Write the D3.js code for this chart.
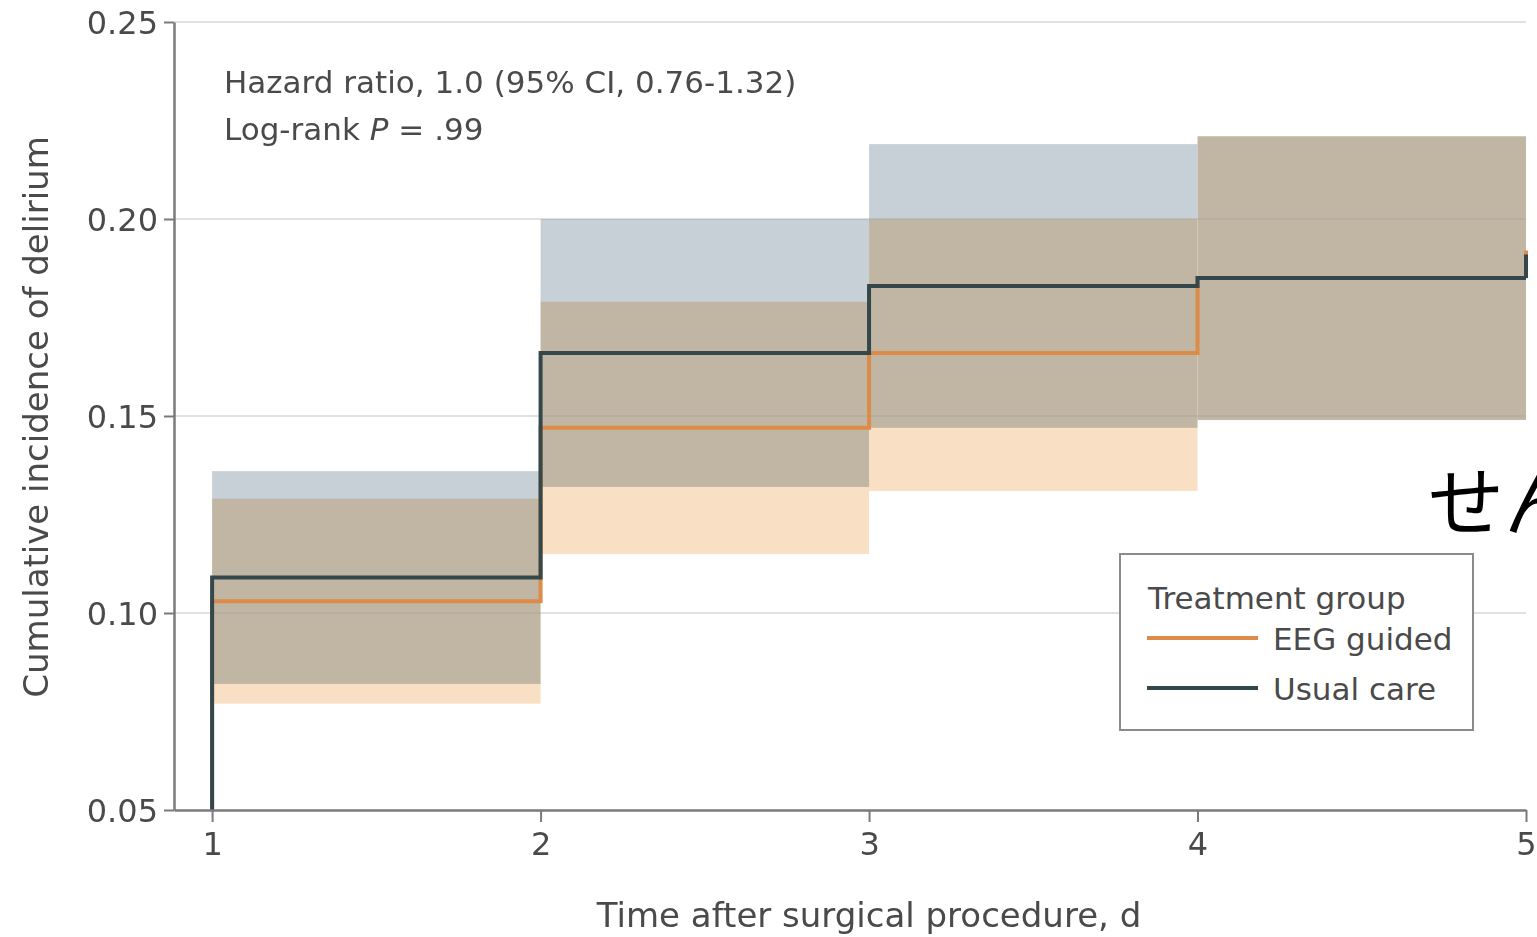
<!DOCTYPE html>
<html>
<head>
<meta charset="utf-8">
<script src="https://cdn.jsdelivr.net/npm/d3@7"></script>
<style>
  body { margin: 0; background: #fff; }
  svg { display: block; overflow: hidden; }
  text { font-family: "DejaVu Sans", "Open Sans", sans-serif; fill: #4a4a4a; }
</style>
</head>
<body>
<div class="canvas"></div>
<script>
// data
const days = [1, 2, 3, 4, 5];
const eegCurve = [0.103, 0.147, 0.166, 0.185, 0.192];
const usualCurve = [0.109, 0.166, 0.183, 0.185, 0.191];
const eegLower = [0.077, 0.115, 0.131, 0.149];
const eegUpper = [0.129, 0.179, 0.200, 0.221];
const usualLower = [0.082, 0.132, 0.147, 0.149];
const usualUpper = [0.136, 0.200, 0.219, 0.221];
const yTicks = [0.05, 0.10, 0.15, 0.20, 0.25];
const xTicks = [1, 2, 3, 4, 5];
const seriesNames = ['EEG guided', 'Usual care'];

var margin = {top: 22, right: 11, bottom: 127, left: 174},
  width = 1537 - margin.left - margin.right,
  height = 937 - margin.top - margin.bottom;

var svg = d3.select('.canvas')
  .append('svg')
  .attr('width', width + margin.left + margin.right)
  .attr('height', height + margin.top + margin.bottom);

const graph = svg.append('g')
  .attr('transform', `translate(${margin.left},${margin.top})`);

// scales
const x = d3.scaleLinear().domain([0.884, 5]).range([0, width]);
const y = d3.scaleLinear().domain([0.05, 0.25]).range([height, 0]);

const colors = {eeg: '#dc8b48', usual: '#34474a', eegBand: '#f9dfc4', usualBand: '#c6d0d6'};

// confidence bands, multiplied so the overlap turns tan
const bands = graph.append('g');
const bandRows = (lo, hi) => lo.map((l, i) => ({x0: days[i], x1: days[i + 1], lo: l, hi: hi[i]}));

[[bandRows(eegLower, eegUpper), colors.eegBand], [bandRows(usualLower, usualUpper), colors.usualBand]]
  .forEach(([rows, col]) => {
    bands.append('g').style('mix-blend-mode', 'multiply')
      .selectAll('rect')
      .data(rows)
      .enter()
      .append('rect')
        .attr('x', d => x(d.x0))
        .attr('width', d => x(d.x1) - x(d.x0))
        .attr('y', d => y(d.hi))
        .attr('height', d => y(d.lo) - y(d.hi))
        .attr('fill', col);
  });

// gridlines
graph.append('g')
  .selectAll('line')
  .data(yTicks.slice(1))
  .enter()
  .append('line')
    .attr('x1', 0)
    .attr('x2', width)
    .attr('y1', d => y(d))
    .attr('y2', d => y(d))
    .attr('stroke', '#9a9a9a')
    .attr('stroke-opacity', 0.3)
    .attr('stroke-width', 2);

// step curves, starting from the bottom of the axis at day 1
const line = d3.line()
  .x(d => x(d[0]))
  .y(d => y(d[1]))
  .curve(d3.curveStepAfter);

const stepPoints = vals => {
  const pts = [[days[0], y.domain()[0]]];
  vals.forEach((v, i) => {
    if (i < vals.length - 1) pts.push([days[i], v]);
  });
  pts.push([days[days.length - 1], vals[vals.length - 2]]);
  return pts;
};

const endSegment = vals => [[days[days.length - 1], vals[vals.length - 2]], [days[days.length - 1], vals[vals.length - 1]]];

[[eegCurve, colors.eeg], [usualCurve, colors.usual]].forEach(([vals, col]) => {
  graph.append('path')
    .datum(stepPoints(vals))
    .attr('fill', 'none')
    .attr('stroke', col)
    .attr('stroke-width', 4)
    .attr('d', line);
  graph.append('path')
    .datum(endSegment(vals))
    .attr('fill', 'none')
    .attr('stroke', col)
    .attr('stroke-width', 4)
    .attr('d', d3.line().x(d => x(d[0])).y(d => y(d[1])));
});

// axes
const xAxis = d3.axisBottom(x).tickValues(xTicks).tickFormat(d3.format('d')).tickSize(12).tickSizeOuter(0).tickPadding(10);
const yAxis = d3.axisLeft(y).tickValues(yTicks).tickFormat(d3.format('.2f')).tickSize(10).tickSizeOuter(0).tickPadding(6);

const xAxisGroup = graph.append('g')
  .attr('transform', `translate(0, ${height})`)
  .call(xAxis);
const yAxisGroup = graph.append('g').call(yAxis);

[xAxisGroup, yAxisGroup].forEach(g => {
  g.select('.domain').attr('stroke', '#7a7a7a').attr('stroke-width', 2.5);
  g.selectAll('.tick line').attr('stroke', '#7a7a7a').attr('stroke-width', 2);
  g.selectAll('.tick text').style('font-size', '32px').attr('fill', '#4a4a4a');
});
yAxisGroup.selectAll('.tick text').attr('dy', '0.35em');

// axis titles
svg.append('text')
  .attr('x', margin.left + x(3))
  .attr('y', 927)
  .attr('text-anchor', 'middle')
  .style('font-size', '34px')
  .text('Time after surgical procedure, d');

svg.append('text')
  .attr('transform', 'translate(48, 417) rotate(-90)')
  .attr('text-anchor', 'middle')
  .style('font-size', '34px')
  .text('Cumulative incidence of delirium');

// annotation
const note = graph.append('text')
  .attr('x', 50)
  .style('font-size', '31px');
note.append('tspan').attr('x', 50).attr('y', 71).text('Hazard ratio, 1.0 (95% CI, 0.76-1.32)');
note.append('tspan').attr('x', 50).attr('y', 118).text('Log-rank ');
note.append('tspan').style('font-style', 'italic').text('P');
note.append('tspan').text(' = .99');

// legend
const legend = svg.append('g').attr('transform', 'translate(1120, 554)');
legend.append('rect')
  .attr('width', 353)
  .attr('height', 176)
  .attr('fill', '#fff')
  .attr('stroke', '#8a8a8a')
  .attr('stroke-width', 2);
legend.append('text')
  .attr('x', 28)
  .attr('y', 55)
  .style('font-size', '31px')
  .text('Treatment group');
const items = legend.selectAll('.item')
  .data(seriesNames)
  .enter()
  .append('g')
    .attr('transform', (d, i) => `translate(0, ${84 + i * 50})`);
items.append('line')
  .attr('x1', 27)
  .attr('x2', 138)
  .attr('stroke', (d, i) => i === 0 ? colors.eeg : colors.usual)
  .attr('stroke-width', 4);
items.append('text')
  .attr('x', 153)
  .attr('y', 12)
  .style('font-size', '31px')
  .text(d => d);

// overlaid kana
svg.append('text')
  .attr('x', 1428)
  .attr('y', 530)
  .style('font-family', '"Noto Sans CJK JP", sans-serif')
  .style('font-size', '76px')
  .style('fill', '#000')
  .text('せん');
</script>
</body>
</html>
